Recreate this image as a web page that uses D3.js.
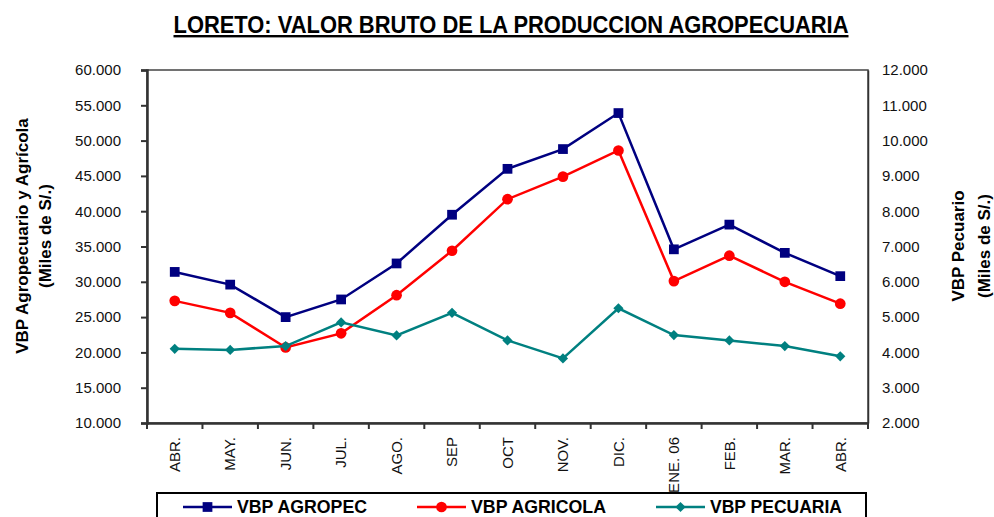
<!DOCTYPE html>
<html>
<head>
<meta charset="utf-8">
<script src="https://cdn.jsdelivr.net/npm/d3@7"></script>
<style>
  body { margin: 0; background: #fff; }
  svg text { font-family: "Liberation Sans Narrow", "Arial Narrow", "Liberation Sans", Arial, sans-serif; }
</style>
</head>
<body>
<div id="chart"></div>
<script>
// months on the x axis
const months = ["ABR.", "MAY.", "JUN.", "JUL.", "AGO.", "SEP", "OCT", "NOV.", "DIC.", "ENE. 06", "FEB.", "MAR.", "ABR."];

// miles de S/.
const agropec  = [31400, 29600, 25000, 27500, 32600, 39500, 46000, 48800, 53900, 34600, 38100, 34100, 30800];
const agricola = [27300, 25600, 20700, 22700, 28100, 34400, 41700, 44900, 48600, 30100, 33700, 30000, 26900];
const pecuaria = [4100, 4070, 4180, 4850, 4480, 5120, 4340, 3830, 5250, 4490, 4340, 4180, 3890];

const leftTicks  = [10000, 15000, 20000, 25000, 30000, 35000, 40000, 45000, 50000, 55000, 60000];
const rightTicks = [2000, 3000, 4000, 5000, 6000, 7000, 8000, 9000, 10000, 11000, 12000];

const W = 994, H = 517;
const margin = { top: 70, right: 126, bottom: 94, left: 147 };
const width  = W - margin.left - margin.right;
const height = H - margin.top - margin.bottom;

const fmt = d => d3.format(",.3f")(d / 1000).replace(",", "");

const svg = d3.select("#chart").append("svg")
    .attr("width", W)
    .attr("height", H);

const g = svg.append("g")
    .attr("transform", `translate(${margin.left}, ${margin.top})`);

// scales
const x = d3.scaleBand().domain(d3.range(months.length)).range([0, width]);
const yL = d3.scaleLinear().domain([10000, 60000]).range([height, 0]);
const yR = d3.scaleLinear().domain([2000, 12000]).range([height, 0]);
const cx = i => x(i) + x.bandwidth() / 2;

// title
svg.append("text")
    .attr("x", 511).attr("y", 33)
    .attr("text-anchor", "middle")
    .attr("textLength", 675)
    .attr("lengthAdjust", "spacingAndGlyphs")
    .style("font-size", "24px")
    .style("font-weight", "bold")
    .style("text-decoration", "underline")
    .attr("fill", "#000")
    .text("LORETO: VALOR BRUTO DE LA PRODUCCION AGROPECUARIA");

// plot frame (top / right)
g.append("rect")
    .attr("width", width).attr("height", height)
    .attr("fill", "none")
    .attr("stroke", "#444")
    .attr("stroke-width", 1.5);

// left axis
const leftAxis = g.append("g")
    .call(d3.axisLeft(yL).tickValues(leftTicks).tickFormat(fmt).tickSize(6).tickPadding(20));
// right axis
const rightAxis = g.append("g")
    .attr("transform", `translate(${width}, 0)`)
    .call(d3.axisRight(yR).tickValues(rightTicks).tickFormat(fmt).tickSize(0).tickPadding(14));
// bottom axis
const xAxis = g.append("g")
    .attr("transform", `translate(0, ${height})`)
    .call(d3.axisBottom(x).tickSize(0).tickFormat(i => months[i]));

[leftAxis, rightAxis].forEach(a => {
  a.select(".domain").attr("stroke", "#333").attr("stroke-width", 2.5);
  a.selectAll(".tick line").attr("stroke", "#333").attr("stroke-width", 2);
  a.selectAll(".tick text").style("font-size", "15px").attr("fill", "#111");
});
rightAxis.select(".domain").attr("stroke-width", 1.5);

xAxis.select(".domain").attr("stroke", "#333").attr("stroke-width", 2.5);
xAxis.selectAll(".tick text")
    .style("font-size", "15px")
    .attr("fill", "#111")
    .attr("text-anchor", "end")
    .attr("transform", "rotate(-90)")
    .attr("x", -14).attr("y", 0).attr("dy", "0.35em");

// x ticks at band boundaries
g.append("g").selectAll("line")
  .data(d3.range(months.length + 1))
  .join("line")
    .attr("x1", i => i * x.bandwidth()).attr("x2", i => i * x.bandwidth())
    .attr("y1", height).attr("y2", height + 6)
    .attr("stroke", "#333").attr("stroke-width", 2);

// axis titles
const axisTitle = (tx, ty, label) => svg.append("text")
    .attr("transform", `translate(${tx}, ${ty}) rotate(-90)`)
    .attr("text-anchor", "middle")
    .style("font-size", "17px").style("font-weight", "bold")
    .text(label);
axisTitle(28, 236, "VBP Agropecuario y Agrícola");
axisTitle(51, 236, "(Miles de S/.)");
axisTitle(964, 246, "VBP Pecuario");
axisTitle(990, 246, "(Miles de S/.)");

// diamond = square turned 45deg
const series = [
  { name: "VBP AGROPEC",  values: agropec,  y: yL, color: "#000080", symbol: d3.symbolSquare, size: 95, rot: 0,  tl: 130 },
  { name: "VBP AGRICOLA", values: agricola, y: yL, color: "#ff0000", symbol: d3.symbolCircle, size: 90, rot: 0,  tl: 135 },
  { name: "VBP PECUARIA", values: pecuaria, y: yR, color: "#008080", symbol: d3.symbolSquare, size: 52, rot: 45, tl: 132 }
];

series.forEach(s => {
  const line = d3.line().x((d, i) => cx(i)).y(d => s.y(d));
  g.append("path")
      .datum(s.values)
      .attr("fill", "none")
      .attr("stroke", s.color)
      .attr("stroke-width", 2.5)
      .attr("d", line);
  g.append("g").selectAll("path")
    .data(s.values)
    .join("path")
      .attr("transform", (d, i) => `translate(${cx(i)}, ${s.y(d)}) rotate(${s.rot})`)
      .attr("d", d3.symbol(s.symbol, s.size))
      .attr("fill", s.color);
});

// legend
const legend = svg.append("g");
legend.append("rect")
    .attr("x", 157).attr("y", 493)
    .attr("width", 709).attr("height", 40)
    .attr("fill", "none")
    .attr("stroke", "#000")
    .attr("stroke-width", 2);

const legendX = [183, 417, 656];
series.forEach((s, i) => {
  const lg = legend.append("g").attr("transform", `translate(${legendX[i]}, 507)`);
  lg.append("line")
      .attr("x1", 0).attr("x2", 49)
      .attr("stroke", s.color).attr("stroke-width", 2.5);
  lg.append("path")
      .attr("transform", `translate(24.5, 0) rotate(${s.rot})`)
      .attr("d", d3.symbol(s.symbol, s.size))
      .attr("fill", s.color);
  lg.append("text")
      .attr("x", 54).attr("y", 0).attr("dy", "0.36em")
      .attr("textLength", s.tl)
      .attr("lengthAdjust", "spacingAndGlyphs")
      .style("font-size", "18px").style("font-weight", "bold")
      .text(s.name);
});
</script>
</body>
</html>
